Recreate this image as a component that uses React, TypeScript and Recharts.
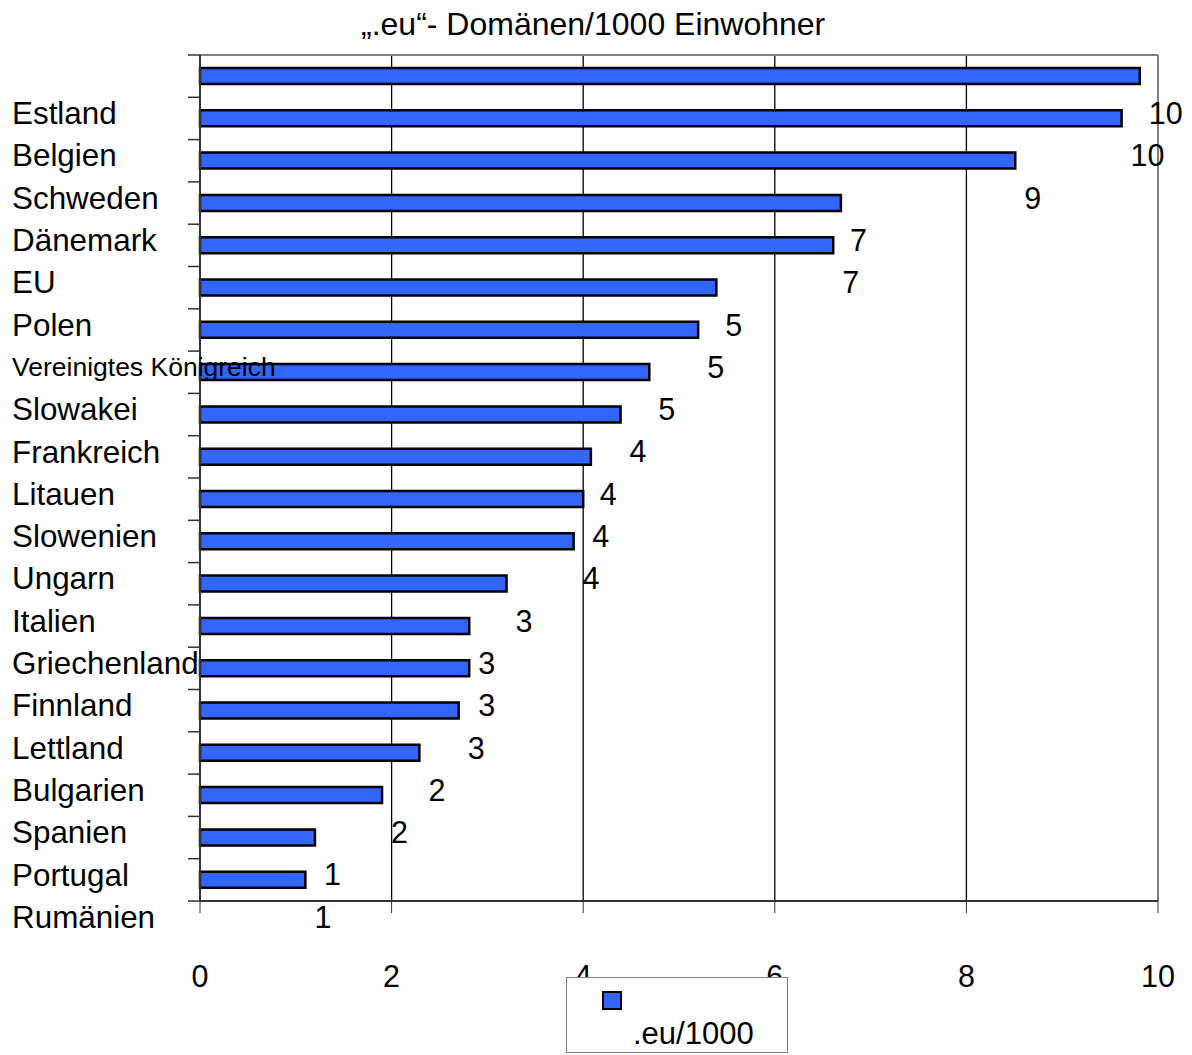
import { Bar, BarChart, CartesianGrid, LabelList, Legend, XAxis, YAxis } from "recharts";

const countries = [
  "Estland",
  "Belgien",
  "Schweden",
  "Dänemark",
  "EU",
  "Polen",
  "Vereinigtes Königreich",
  "Slowakei",
  "Frankreich",
  "Litauen",
  "Slowenien",
  "Ungarn",
  "Italien",
  "Griechenland",
  "Finnland",
  "Lettland",
  "Bulgarien",
  "Spanien",
  "Portugal",
  "Rumänien",
];
const domainsPer1000 = [9.81, 9.62, 8.51, 6.69, 6.61, 5.39, 5.2, 4.69, 4.39, 4.08, 4.0, 3.9, 3.2, 2.81, 2.81, 2.7, 2.29, 1.9, 1.2, 1.1];
const xTicks = [0, 2, 4, 6, 8, 10];

const data = countries.map((name, i) => ({ name, value: domainsPer1000[i] }));

const W = 1184;
const H = 1047;
const TOP = 47;
const X_AXIS_H = 154;
const ROW = (H - TOP - X_AXIS_H) / data.length;
const FONT = "'Liberation Sans', Arial, sans-serif";

// labels sit one row below their bar, like in the original
function CountryTick(props: any) {
  const { y, payload, index } = props;
  const small = payload.value.length > 15;
  return (
    <g>
      <line x1={180} x2={192} y1={y - ROW / 2} y2={y - ROW / 2} stroke="#333" strokeWidth={1.5} />
      {index === data.length - 1 && (
        <line x1={180} x2={192} y1={y + ROW / 2} y2={y + ROW / 2} stroke="#333" strokeWidth={1.5} />
      )}
      <text x={4} y={y + (small ? 46 : 48)} textAnchor="start" fontSize={small ? 26.5 : 31.4} fontFamily={FONT} fill="#000">
        {payload.value}
      </text>
    </g>
  );
}

function ValueTick(props: any) {
  const { x, y, payload } = props;
  return (
    <text x={x} y={y + 74} textAnchor="middle" fontSize={30.5} fontFamily={FONT} fill="#000">
      {payload.value}
    </text>
  );
}

function ShiftedLabel(props: any) {
  const { x, y, width, height, value } = props;
  return (
    <text x={x + width + 9} y={y + height / 2 + 48} fontSize={30.5} fontFamily={FONT} fill="#000">
      {Math.round(value)}
    </text>
  );
}

function LegendBox() {
  return (
    <div style={{ width: 220, height: 74, border: "1px solid #808080", background: "#fff", position: "relative", fontFamily: FONT }}>
      <div style={{ position: "absolute", left: 35, top: 13, width: 16, height: 15, background: "#3366ff", border: "2px solid #000" }} />
      <div style={{ position: "absolute", left: 66, top: 40, fontSize: 31, lineHeight: "31px" }}>.eu/1000</div>
    </div>
  );
}

export default function App() {
  return (
    <div style={{ position: "relative", width: W, height: H }}>
      <div style={{ position: "absolute", left: 353, top: 0, fontSize: 32, lineHeight: "32px", fontFamily: FONT, whiteSpace: "nowrap" }}>
        „.eu“- Domänen/1000 Einwohner
      </div>
      <BarChart width={W} height={H} data={data} layout="vertical" margin={{ top: TOP, right: 34, bottom: 0, left: 0 }}>
        <CartesianGrid horizontal={false} stroke="#000" strokeWidth={1.3} />
        <CartesianGrid
          stroke="#808080"
          strokeWidth={2}
          horizontalCoordinatesGenerator={({ offset }: any) => [offset.top]}
          verticalCoordinatesGenerator={({ offset }: any) => [offset.left + offset.width]}
        />
        <XAxis
          type="number"
          domain={[0, 10]}
          ticks={xTicks}
          height={X_AXIS_H}
          tickSize={12}
          tickMargin={0}
          stroke="#333"
          axisLine={{ stroke: "#333", strokeWidth: 2 }}
          tickLine={{ stroke: "#333" }}
          tick={<ValueTick />}
        />
        <YAxis
          type="category"
          dataKey="name"
          width={192}
          tickLine={false}
          axisLine={{ stroke: "#333", strokeWidth: 2 }}
          interval={0}
          tick={<CountryTick />}
        />
        <Legend
          layout="horizontal"
          verticalAlign="middle"
          align="center"
          wrapperStyle={{ left: 558, top: 969, width: 222, height: 76 }}
          content={<LegendBox />}
        />
        <Bar dataKey="value" name=".eu/1000" fill="#3366ff" stroke="#000" strokeWidth={2.5} barSize={16} isAnimationActive={false}>
          <LabelList dataKey="value" content={<ShiftedLabel />} />
        </Bar>
      </BarChart>
    </div>
  );
}
